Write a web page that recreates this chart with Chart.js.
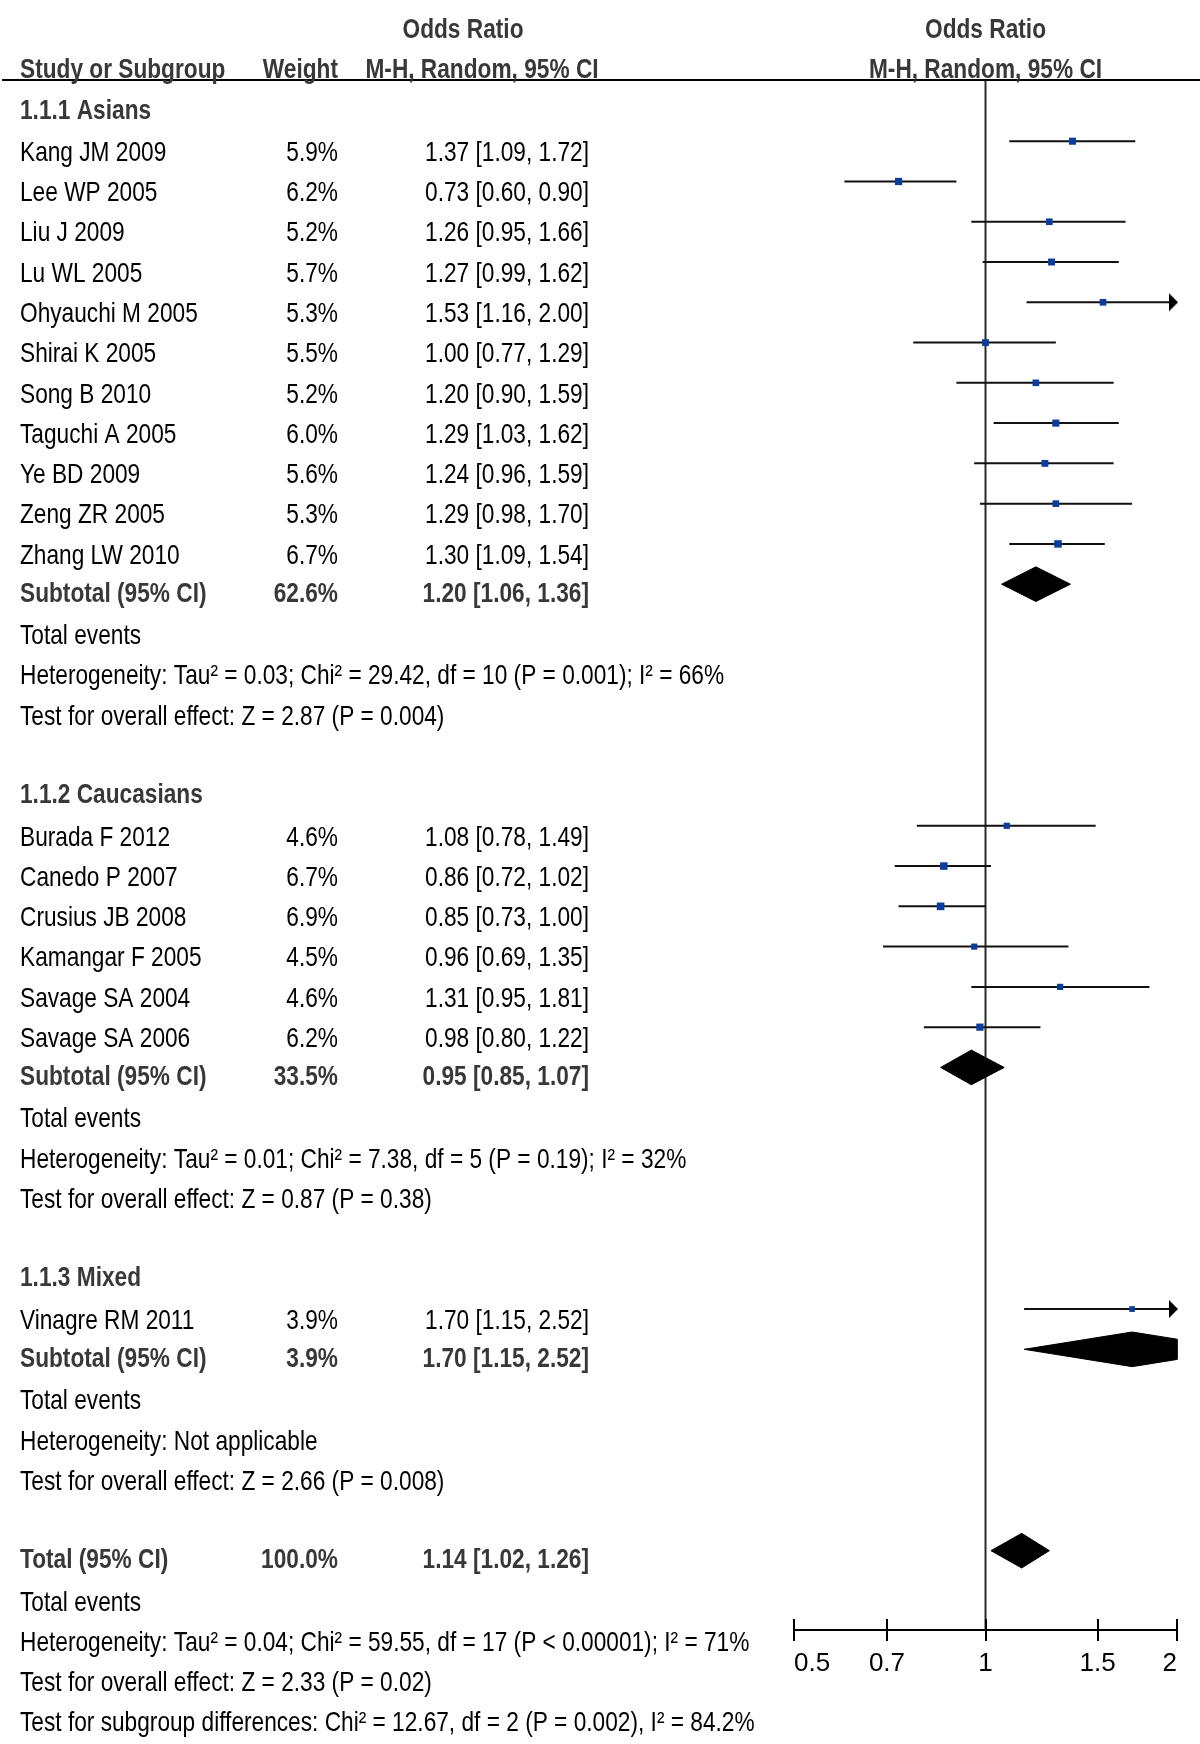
<!DOCTYPE html>
<html>
<head>
<meta charset="utf-8">
<script src="https://cdn.jsdelivr.net/npm/chart.js@4.4.1/dist/chart.umd.min.js"></script>
<style>
  html, body { margin: 0; padding: 0; background: #ffffff; }
  #wrap { width: 1200px; height: 1744px; position: relative; }
</style>
</head>
<body>
<div id="wrap"><canvas id="forest" width="1200" height="1744"></canvas></div>
<script>
// ---------------- DATA ----------------
const groupNames = ['1.1.1 Asians', '1.1.2 Caucasians', '1.1.3 Mixed'];
const studyNames = ['Kang JM 2009', 'Lee WP 2005', 'Liu J 2009', 'Lu WL 2005', 'Ohyauchi M 2005',
  'Shirai K 2005', 'Song B 2010', 'Taguchi A 2005', 'Ye BD 2009', 'Zeng ZR 2005', 'Zhang LW 2010',
  'Burada F 2012', 'Canedo P 2007', 'Crusius JB 2008', 'Kamangar F 2005', 'Savage SA 2004', 'Savage SA 2006',
  'Vinagre RM 2011'];
const studyGroup  = [0,0,0,0,0,0,0,0,0,0,0, 1,1,1,1,1,1, 2];
const studyWeight = [5.9, 6.2, 5.2, 5.7, 5.3, 5.5, 5.2, 6.0, 5.6, 5.3, 6.7, 4.6, 6.7, 6.9, 4.5, 4.6, 6.2, 3.9];
const studyOR     = [1.37, 0.73, 1.26, 1.27, 1.53, 1.00, 1.20, 1.29, 1.24, 1.29, 1.30, 1.08, 0.86, 0.85, 0.96, 1.31, 0.98, 1.70];
const studyLower  = [1.09, 0.60, 0.95, 0.99, 1.16, 0.77, 0.90, 1.03, 0.96, 0.98, 1.09, 0.78, 0.72, 0.73, 0.69, 0.95, 0.80, 1.15];
const studyUpper  = [1.72, 0.90, 1.66, 1.62, 2.00, 1.29, 1.59, 1.62, 1.59, 1.70, 1.54, 1.49, 1.02, 1.00, 1.35, 1.81, 1.22, 2.52];

const subtotalWeight = [62.6, 33.5, 3.9];
const subtotalOR     = [1.20, 0.95, 1.70];
const subtotalLower  = [1.06, 0.85, 1.15];
const subtotalUpper  = [1.36, 1.07, 2.52];
const groupHeterogeneity = [
  'Heterogeneity: Tau² = 0.03; Chi² = 29.42, df = 10 (P = 0.001); I² = 66%',
  'Heterogeneity: Tau² = 0.01; Chi² = 7.38, df = 5 (P = 0.19); I² = 32%',
  'Heterogeneity: Not applicable'];
const groupOverallEffect = [
  'Test for overall effect: Z = 2.87 (P = 0.004)',
  'Test for overall effect: Z = 0.87 (P = 0.38)',
  'Test for overall effect: Z = 2.66 (P = 0.008)'];

const totalWeight = 100.0;
const totalOR = 1.14;
const totalLower = 1.02;
const totalUpper = 1.26;
const totalHeterogeneity = 'Heterogeneity: Tau² = 0.04; Chi² = 59.55, df = 17 (P < 0.00001); I² = 71%';
const totalOverallEffect = 'Test for overall effect: Z = 2.33 (P = 0.02)';
const subgroupDifferences = 'Test for subgroup differences: Chi² = 12.67, df = 2 (P = 0.002), I² = 84.2%';

const tickValues = [0.5, 0.7, 1, 1.5, 2];
const tickLabels = ['0.5', '0.7', '1', '1.5', '2'];

// ---------------- STYLE / LAYOUT ----------------
const AXIS_MIN = 0.5, AXIS_MAX = 2;
const ROW_MIN = -1.52, ROW_MAX = 36.97;
const DIAMOND_H = 0.43;
const TEXT_DY = 12, BOLD_DY = 10, HEAD_DY = 10, TICK_UP = 12;
const COL_NAME = 20, COL_WEIGHT = 338, COL_CI = 589;
const SQUARE_BLUE = '#0b3d9f';
const BOLD_COLOR = '#383838', TEXT_COLOR = '#000000';
const FONT_SIZE = 28;

function fontExists(name) {
  const c = document.createElement('canvas').getContext('2d');
  const s = 'Kang JM 2009 Heterogeneity wmli';
  let diff = false;
  ['monospace', 'serif'].forEach(fb => {
    c.font = '40px ' + fb; const a = c.measureText(s).width;
    c.font = '40px "' + name + '", ' + fb; const b = c.measureText(s).width;
    if (Math.abs(a - b) > 0.5) diff = true;
  });
  return diff;
}
const HAS_NARROW = fontExists('Liberation Sans Narrow');
const FONT_FAMILY = HAS_NARROW ? '"Liberation Sans Narrow", "Liberation Sans", Arial, sans-serif' : '"Liberation Sans", Arial, sans-serif';
const X_SQUEEZE = HAS_NARROW ? 0.985 : 0.81;

// ---------------- ROW LAYOUT ----------------
const fmt2 = v => v.toFixed(2);
const ciText = (o, l, h) => fmt2(o) + ' [' + fmt2(l) + ', ' + fmt2(h) + ']';
const textRows = [];
const studyRow = [], subtotalRow = [];
let r = -1;
textRows.push({ row: r - 2, dy: HEAD_DY, cols: [
  { t: 'Odds Ratio', x: 463, align: 'center', bold: true },
  { t: 'Odds Ratio', x: 'axis', align: 'center', bold: true } ] });
textRows.push({ row: r - 1, dy: HEAD_DY, cols: [
  { t: 'Study or Subgroup', x: COL_NAME, align: 'left', bold: true },
  { t: 'Weight', x: COL_WEIGHT, align: 'right', bold: true },
  { t: 'M-H, Random, 95% CI', x: 482, align: 'center', bold: true },
  { t: 'M-H, Random, 95% CI', x: 'axis', align: 'center', bold: true } ] });
groupNames.forEach((g, gi) => {
  textRows.push({ row: r, dy: BOLD_DY, cols: [{ t: g, x: COL_NAME, align: 'left', bold: true }] }); r++;
  studyNames.forEach((n, i) => {
    if (studyGroup[i] !== gi) return;
    studyRow[i] = r;
    textRows.push({ row: r, dy: TEXT_DY, cols: [
      { t: n, x: COL_NAME, align: 'left' },
      { t: studyWeight[i].toFixed(1) + '%', x: COL_WEIGHT, align: 'right' },
      { t: ciText(studyOR[i], studyLower[i], studyUpper[i]), x: COL_CI, align: 'right' } ] });
    r++;
  });
  subtotalRow[gi] = r;
  textRows.push({ row: r, dy: BOLD_DY, cols: [
    { t: 'Subtotal (95% CI)', x: COL_NAME, align: 'left', bold: true },
    { t: subtotalWeight[gi].toFixed(1) + '%', x: COL_WEIGHT, align: 'right', bold: true },
    { t: ciText(subtotalOR[gi], subtotalLower[gi], subtotalUpper[gi]), x: COL_CI, align: 'right', bold: true } ] });
  r++;
  textRows.push({ row: r, dy: TEXT_DY, cols: [{ t: 'Total events', x: COL_NAME, align: 'left' }] }); r++;
  textRows.push({ row: r, dy: TEXT_DY, cols: [{ t: groupHeterogeneity[gi], x: COL_NAME, align: 'left' }] }); r++;
  textRows.push({ row: r, dy: TEXT_DY, cols: [{ t: groupOverallEffect[gi], x: COL_NAME, align: 'left' }] }); r++;
  r++; // blank line
});
const totalRow = r;
textRows.push({ row: r, dy: BOLD_DY, cols: [
  { t: 'Total (95% CI)', x: COL_NAME, align: 'left', bold: true },
  { t: totalWeight.toFixed(1) + '%', x: COL_WEIGHT, align: 'right', bold: true },
  { t: ciText(totalOR, totalLower, totalUpper), x: COL_CI, align: 'right', bold: true } ] });
r++;
[ 'Total events', totalHeterogeneity, totalOverallEffect, subgroupDifferences ].forEach(s => {
  textRows.push({ row: r, dy: TEXT_DY, cols: [{ t: s, x: COL_NAME, align: 'left' }] }); r++;
});

// ---------------- MARK DATA ----------------
const ciSegments = [];
studyNames.forEach((n, i) => {
  ciSegments.push({ x: Math.max(studyLower[i], AXIS_MIN), y: studyRow[i] });
  ciSegments.push({ x: Math.min(studyUpper[i], AXIS_MAX), y: studyRow[i] });
  ciSegments.push({ x: null, y: null });
});
const squarePoints = studyNames.map((n, i) => ({ x: studyOR[i], y: studyRow[i] }));
const squareRadius = studyWeight.map(w => 2.9 * Math.sqrt(w) / Math.SQRT2);
const arrowPoints = [];
studyNames.forEach((n, i) => { if (studyUpper[i] >= AXIS_MAX) arrowPoints.push({ x: AXIS_MAX, y: studyRow[i] }); });

function diamond(or, lo, hi, row) {
  const pts = [{ x: lo, y: row }, { x: or, y: row - DIAMOND_H }];
  if (hi > AXIS_MAX) {
    const f = (Math.log(hi) - Math.log(AXIS_MAX)) / (Math.log(hi) - Math.log(or));
    pts.push({ x: AXIS_MAX, y: row - DIAMOND_H * f }, { x: AXIS_MAX, y: row + DIAMOND_H * f });
  } else {
    pts.push({ x: hi, y: row });
  }
  pts.push({ x: or, y: row + DIAMOND_H }, { x: lo, y: row });
  return pts;
}
const diamondSets = subtotalOR.map((o, gi) => diamond(o, subtotalLower[gi], subtotalUpper[gi], subtotalRow[gi]));
diamondSets.push(diamond(totalOR, totalLower, totalUpper, totalRow));

// arrow head image
const arrowImg = document.createElement('canvas');
arrowImg.width = 20; arrowImg.height = 20;
(function () {
  const a = arrowImg.getContext('2d');
  a.fillStyle = '#000';
  a.beginPath(); a.moveTo(2, 1); a.lineTo(11, 10); a.lineTo(2, 19); a.closePath(); a.fill();
})();

// ---------------- TEXT PLUGIN ----------------
function drawText(ctx, s, x, y, align, bold) {
  ctx.save();
  ctx.font = (bold ? 'bold ' : '') + FONT_SIZE + 'px ' + FONT_FAMILY;
  ctx.fillStyle = bold ? BOLD_COLOR : TEXT_COLOR;
  ctx.textBaseline = 'middle';
  ctx.textAlign = align;
  ctx.translate(x, y);
  ctx.scale(X_SQUEEZE, 1);
  ctx.fillText(s, 0, 0);
  ctx.restore();
}
const forestPlugin = {
  id: 'forestDecor',
  afterDraw(chart) {
    const { ctx, chartArea, scales } = chart;
    const xs = scales.x, ys = scales.y;
    ctx.save();
    ctx.strokeStyle = '#000';
    ctx.lineWidth = 2;
    ctx.beginPath();
    ctx.moveTo(2, chartArea.top); ctx.lineTo(chart.width, chartArea.top);
    ctx.stroke();
    const axisY = chartArea.bottom + 1;
    tickValues.forEach(v => {
      const px = Math.round(xs.getPixelForValue(v));
      ctx.beginPath(); ctx.moveTo(px, axisY - TICK_UP); ctx.lineTo(px, axisY); ctx.stroke();
    });
    ctx.restore();
    const axisCenter = (chartArea.left + chartArea.right) / 2;
    textRows.forEach(tr => {
      const py = ys.getPixelForValue(tr.row) + tr.dy;
      tr.cols.forEach(c => drawText(ctx, c.t, c.x === 'axis' ? axisCenter : c.x, py, c.align, c.bold));
    });
  }
};

// ---------------- CHART ----------------
const datasets = [
  { type: 'scatter', data: squarePoints, pointStyle: 'rect', pointRadius: squareRadius,
    backgroundColor: SQUARE_BLUE, borderWidth: 0, clip: false },
  { type: 'scatter', data: arrowPoints, pointStyle: arrowImg, pointRadius: 10, clip: false },
];
diamondSets.forEach(d => datasets.push({
  type: 'line', data: d, borderColor: '#000', backgroundColor: '#000', borderWidth: 1,
  fill: 'shape', pointRadius: 0, tension: 0, clip: false }));
datasets.push({ type: 'line', data: ciSegments, borderColor: '#111', borderWidth: 2,
  pointRadius: 0, spanGaps: false, tension: 0, fill: false, clip: false });
datasets.push({ type: 'line', data: [{ x: 1, y: ROW_MIN }, { x: 1, y: ROW_MAX }], borderColor: '#2b2b2b',
  borderWidth: 2, pointRadius: 0, fill: false, clip: false });

new Chart(document.getElementById('forest'), {
  type: 'scatter',
  data: { datasets },
  options: {
    responsive: false,
    animation: false,
    devicePixelRatio: 1,
    events: [],
    layout: { padding: { left: 794, right: 23, top: 80, bottom: 0 } },
    plugins: { legend: { display: false }, tooltip: { enabled: false } },
    scales: {
      x: {
        type: 'logarithmic', position: 'bottom', min: AXIS_MIN, max: AXIS_MAX, bounds: 'data',
        afterBuildTicks: s => { s.ticks = tickValues.map(v => ({ value: v })); },
        afterFit: s => { s.height = 114; },
        ticks: { callback: (v, i) => tickLabels[i], autoSkip: false, maxRotation: 0, align: 'inner',
                 padding: 7, color: '#000', font: { family: FONT_FAMILY, size: 26 } },
        grid: { display: true, drawOnChartArea: false, drawTicks: true, tickLength: 11, color: '#000', lineWidth: 2 },
        border: { display: true, color: '#000', width: 2 }
      },
      y: { type: 'linear', display: false, reverse: true, min: ROW_MIN, max: ROW_MAX, bounds: 'data' }
    }
  },
  plugins: [forestPlugin]
});
</script>
</body>
</html>
